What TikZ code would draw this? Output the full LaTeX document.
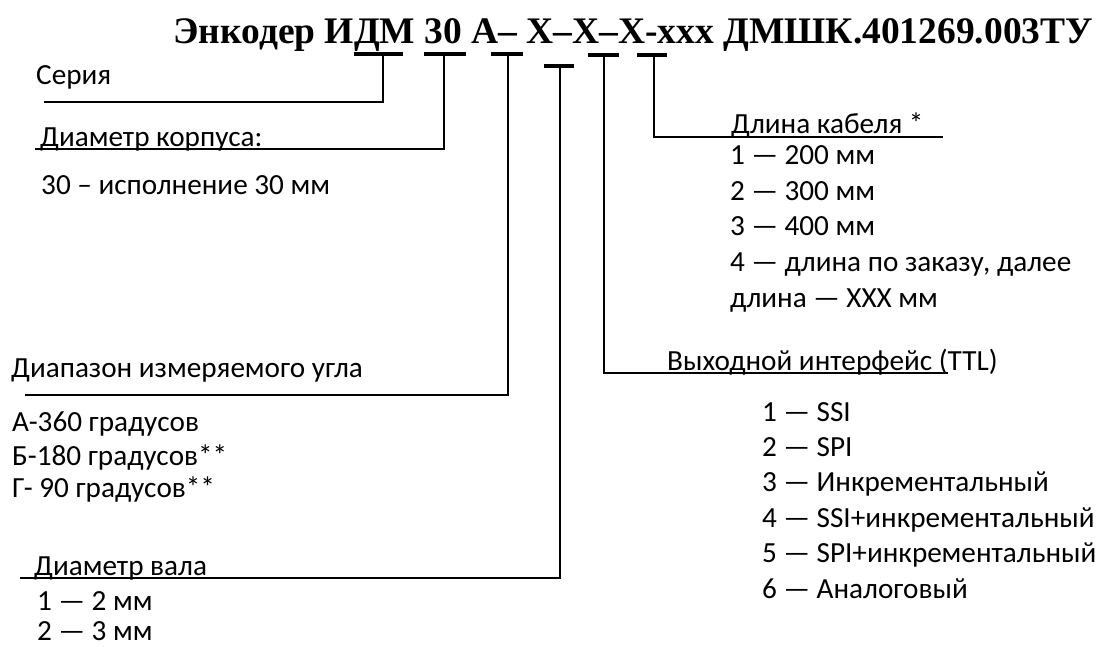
\documentclass[tikz,border=0pt]{standalone}
\usepackage{fontspec}
\setmainfont{Carlito}
\newfontfamily\titlefont{Liberation Serif}
\begin{document}
\begin{tikzpicture}[x=1pt,y=-1pt,
  lbl/.style={anchor=base west,inner sep=0pt,font=\fontsize{29.2}{34}\selectfont},
  ttl/.style={anchor=base west,inner sep=0pt,font=\titlefont\bfseries\fontsize{37.5}{44}\selectfont},
  bar/.style={line width=3.5pt},
  conn/.style={line width=1.3pt}]
\useasboundingbox (0,0) rectangle (1099,646);
\node[ttl] (title) at (173,43) {Энкодер ИДМ 30 А– Х–Х–Х-ххх ДМШК.401269.003ТУ};
% bars
\coordinate (b1l) at (354,54); \coordinate (b1r) at (403,54); \coordinate (b1) at (383,54);
\coordinate (b2l) at (424,54); \coordinate (b2r) at (466,54); \coordinate (b2) at (444,54);
\coordinate (b3l) at (491,54); \coordinate (b3r) at (523,54); \coordinate (b3) at (508,54);
\coordinate (b4l) at (544,66); \coordinate (b4r) at (574,66); \coordinate (b4) at (560,66);
\coordinate (b5l) at (588,55); \coordinate (b5r) at (619,55); \coordinate (b5) at (604,55);
\coordinate (b6l) at (637,55); \coordinate (b6r) at (667,55); \coordinate (b6) at (654,55);
\foreach \i in {1,...,6} {\draw[bar] (b\i l) -- (b\i r);}
% left labels
\node[lbl] (seria) at (36,84) {Серия};
\coordinate (e1) at (44,102);
\draw[conn] (b1) |- (e1);
\node[lbl] (korp) at (40,146) {Диаметр корпуса:};
\coordinate (e2) at (35,149);
\draw[conn] (b2) |- (e2);
\node[lbl] (korp1) at (41,194) {30 – исполнение 30 мм};
\node[lbl] (diap) at (11,377) {Диапазон измеряемого угла};
\coordinate (e3) at (25,395);
\draw[conn] (b3) |- (e3);
\node[lbl] (d1) at (12,431) {А-360 градусов};
\node[lbl] (d2) at (12,465) {Б-180 градусов**};
\node[lbl] (d3) at (12,497) {Г- 90 градусов**};
\node[lbl] (val) at (34,575) {Диаметр вала};
\coordinate (e4) at (20,578);
\draw[conn] (b4) |- (e4);
\node[lbl] (v1) at (37,610) {1 — 2 мм};
\node[lbl] (v2) at (37,640) {2 — 3 мм};
% right labels
\node[lbl] (kab) at (731,133) {Длина кабеля *};
\coordinate (e6) at (943,137);
\draw[conn] (b6) |- (e6);
\node[lbl] (k1) at (730,164) {1 — 200 мм};
\node[lbl] (k2) at (730,200) {2 — 300 мм};
\node[lbl] (k3) at (730,235) {3 — 400 мм};
\node[lbl] (k4) at (730,271) {4 — длина по заказу, далее};
\node[lbl] (k5) at (730,307) {длина — XXX мм};
\node[lbl] (out) at (667,370) {Выходной интерфейс (TTL)};
\coordinate (e5) at (948,373);
\draw[conn] (b5) |- (e5);
\node[lbl] (o1) at (762,421) {1 — SSI};
\node[lbl] (o2) at (762,456) {2 — SPI};
\node[lbl] (o3) at (762,491) {3 — Инкрементальный};
\node[lbl] (o4) at (762,527) {4 — SSI+инкрементальный};
\node[lbl] (o5) at (762,562) {5 — SPI+инкрементальный};
\node[lbl] (o6) at (762,598) {6 — Аналоговый};
\end{tikzpicture}
\end{document}
